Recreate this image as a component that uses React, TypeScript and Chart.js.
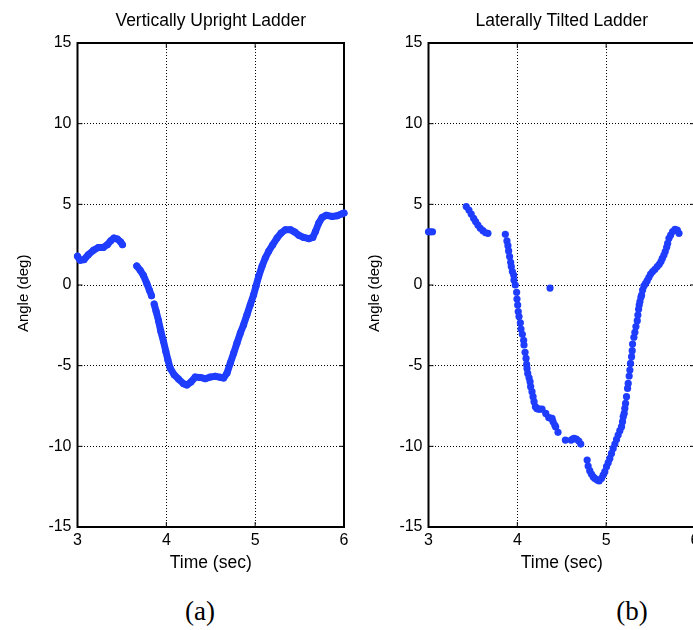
import React, { useEffect, useRef } from 'react'
import { Chart, registerables } from 'chart.js'

Chart.register(...registerables)

const BLUE = '#1f3dff'
const FONT = '"Liberation Sans", Arial, Helvetica, sans-serif'

// (a) vertically upright ladder, three unbroken stretches
const uprightTime1 = [3.0, 3.03, 3.073, 3.122, 3.179, 3.235, 3.291, 3.336, 3.374, 3.411, 3.449, 3.487, 3.506]
const uprightAngle1 = [1.78, 1.53, 1.57, 1.88, 2.15, 2.33, 2.33, 2.5, 2.75, 2.91, 2.85, 2.66, 2.5]
const uprightTime2 = [3.667, 3.705, 3.742, 3.78, 3.81, 3.833]
const uprightAngle2 = [1.18, 0.92, 0.6, 0.1, -0.32, -0.66]
const uprightTime3 = [
  3.863, 3.885, 3.912, 3.938, 3.968, 3.994, 4.017, 4.043, 4.088, 4.137, 4.194, 4.23, 4.276, 4.325, 4.381,
  4.437, 4.494, 4.551, 4.607, 4.645, 4.683, 4.72, 4.758, 4.795, 4.833, 4.87, 4.908, 4.945, 4.983, 5.009,
  5.039, 5.077, 5.114, 5.152, 5.198, 5.246, 5.292, 5.34, 5.397, 5.446, 5.491, 5.547, 5.604, 5.649, 5.679,
  5.716, 5.754, 5.799, 5.866, 5.923, 5.972, 6.0,
]
const uprightAngle3 = [
  -1.18, -1.63, -2.21, -2.87, -3.49, -4.11, -4.63, -5.15, -5.56, -5.83, -6.12, -6.2, -6.02, -5.71, -5.73,
  -5.81, -5.71, -5.66, -5.72, -5.77, -5.46, -4.84, -4.22, -3.6, -2.98, -2.46, -1.84, -1.22, -0.6, -0.08,
  0.54, 1.16, 1.67, 2.09, 2.5, 2.91, 3.22, 3.43, 3.43, 3.28, 3.08, 2.95, 2.87, 2.95, 3.32,
  3.84, 4.19, 4.32, 4.25, 4.29, 4.4, 4.46,
]

// (b) laterally tilted ladder, individual samples
const tiltedTime = [
  3.0, 3.022, 3.045,
  3.425, 3.455, 3.481, 3.508, 3.53, 3.556, 3.583, 3.613, 3.643, 3.669,
  3.865, 3.883, 3.894, 3.902, 3.913, 3.925, 3.932, 3.944, 3.959, 3.962, 3.977, 3.992, 3.996, 4.004, 4.01,
  4.019, 4.034, 4.041, 4.056, 4.071, 4.075, 4.087, 4.098, 4.105, 4.109, 4.117, 4.132, 4.143, 4.15, 4.165,
  4.177, 4.188, 4.203, 4.218, 4.235, 4.252, 4.278, 4.32, 4.353, 4.372, 4.391, 4.402, 4.421, 4.432, 4.458,
  4.368,
  4.541, 4.605, 4.622, 4.639, 4.665, 4.692, 4.714,
  4.786, 4.797, 4.815, 4.834, 4.853, 4.872, 4.898, 4.921, 4.947, 4.966, 4.985, 5.004, 5.023, 5.041, 5.06,
  5.079, 5.098, 5.117, 5.135, 5.154, 5.173, 5.184, 5.192, 5.203, 5.21, 5.218, 5.229, 5.241, 5.248, 5.259,
  5.267, 5.274, 5.286, 5.293, 5.297, 5.312, 5.323, 5.335, 5.35, 5.357, 5.365, 5.372, 5.38, 5.391, 5.399,
  5.41, 5.425, 5.444, 5.462, 5.481, 5.5, 5.523, 5.549, 5.575, 5.598, 5.617, 5.632, 5.65, 5.665, 5.681,
  5.692, 5.707, 5.726, 5.748, 5.775, 5.801, 5.82,
]
const tiltedAngle = [
  3.3, 3.3, 3.3,
  4.86, 4.65, 4.4, 4.13, 3.93, 3.72, 3.51, 3.37, 3.24, 3.2,
  3.14, 2.73, 2.44, 2.11, 1.76, 1.41, 1.14, 0.83, 0.62, 0.31, 0.0, -0.45, -0.87, -1.24, -1.65,
  -1.96, -2.34, -2.73, -3.06, -3.43, -3.72, -4.17, -4.55, -4.92, -5.17, -5.48, -5.75, -5.99, -6.3, -6.61,
  -6.92, -7.23, -7.54, -7.65, -7.69, -7.69, -7.69, -7.96, -8.22, -8.25, -8.27, -8.47, -8.68, -8.8, -9.13,
  -0.19,
  -9.61, -9.61, -9.55, -9.51, -9.55, -9.67, -9.86,
  -10.85, -11.22, -11.51, -11.72, -11.88, -11.99, -12.09, -12.15, -11.99, -11.78, -11.57, -11.26, -11.01, -10.75, -10.44,
  -10.13, -9.86, -9.57, -9.3, -9.03, -8.78, -8.47, -8.16, -7.96, -7.65, -7.34, -6.92, -6.41, -6.1, -5.64,
  -5.27, -4.86, -4.44, -4.07, -3.66, -3.24, -2.93, -2.58, -2.21, -1.86, -1.51, -1.24, -1.03, -0.76, -0.62,
  -0.31, -0.06, 0.1, 0.27, 0.48, 0.68, 0.83, 0.97, 1.14, 1.28, 1.45, 1.65, 1.86, 2.07, 2.34,
  2.58, 2.89, 3.1, 3.31, 3.45, 3.41, 3.2,
]

const timeTicks = { min: 3, max: 6, step: 1 }
const angleTicks = { min: -15, max: 15, step: 5 }

const toPoints = (xs: number[], ys: number[]) => xs.map((x, i) => ({ x, y: ys[i] }))

// MATLAB style box with inward tick marks
const framePlugin = {
  id: 'frame',
  beforeDatasetsDraw(chart: any) {
    const { ctx, chartArea: a } = chart
    const xs = chart.scales.x
    const ys = chart.scales.y
    ctx.save()
    ctx.strokeStyle = '#000'
    ctx.lineWidth = 1
    ctx.beginPath()
    xs.ticks.forEach((t: any) => {
      const p = xs.getPixelForValue(t.value)
      ctx.moveTo(p, a.bottom)
      ctx.lineTo(p, a.bottom - 5)
      ctx.moveTo(p, a.top)
      ctx.lineTo(p, a.top + 5)
    })
    ys.ticks.forEach((t: any) => {
      const p = ys.getPixelForValue(t.value)
      ctx.moveTo(a.left, p)
      ctx.lineTo(a.left + 5, p)
      ctx.moveTo(a.right, p)
      ctx.lineTo(a.right - 5, p)
    })
    ctx.stroke()
    ctx.lineWidth = 2
    ctx.strokeRect(a.left, a.top, a.right - a.left, a.bottom - a.top)
    ctx.restore()
  },
}

function Panel({ title, datasets, left }: { title: string; datasets: any[]; left: number }) {
  const ref = useRef<HTMLCanvasElement | null>(null)

  useEffect(() => {
    if (!ref.current) return
    const chart = new Chart(ref.current, {
      type: 'scatter',
      data: { datasets },
      options: {
        animation: false,
        responsive: true,
        maintainAspectRatio: false,
        layout: { padding: { top: 0, right: 16, bottom: 0, left: 0 } },
        plugins: {
          legend: { display: false },
          tooltip: { enabled: false },
          title: {
            display: true,
            text: title,
            color: '#000',
            fullSize: false,
            font: { family: FONT, size: 17.5, weight: 'normal' },
            padding: { top: 10.5, bottom: 11.5 },
          },
        },
        scales: {
          x: {
            type: 'linear',
            min: timeTicks.min,
            max: timeTicks.max,
            ticks: { stepSize: timeTicks.step, color: '#000', font: { family: FONT, size: 16 }, padding: 3.5 },
            grid: { color: '#000', lineWidth: 1, drawTicks: false },
            border: { display: false, dash: [1, 2] },
            title: {
              display: true,
              text: 'Time (sec)',
              color: '#000',
              font: { family: FONT, size: 17.5 },
              padding: { top: 0, bottom: 16.5 },
            },
            afterFit: (s: any) => {
              s.height = 63
            },
          },
          y: {
            type: 'linear',
            min: angleTicks.min,
            max: angleTicks.max,
            ticks: { stepSize: angleTicks.step, color: '#000', font: { family: FONT, size: 16 }, padding: 6 },
            grid: { color: '#000', lineWidth: 1, drawTicks: false },
            border: { display: false, dash: [1, 2] },
            title: {
              display: true,
              text: 'Angle (deg)    ',
              color: '#000',
              font: { family: FONT, size: 15 },
              padding: { top: 15, bottom: 0 },
            },
            afterFit: (s: any) => {
              s.width = 77.5
            },
          },
        },
      },
      plugins: [framePlugin],
    })
    return () => chart.destroy()
  }, [title, datasets])

  return (
    <div style={{ position: 'absolute', left, top: 0, width: 360, height: 590 }}>
      <canvas ref={ref} />
    </div>
  )
}

const lineSet = (xs: number[], ys: number[]) => ({
  data: toPoints(xs, ys),
  showLine: true,
  borderColor: BLUE,
  backgroundColor: BLUE,
  borderWidth: 7,
  borderCapStyle: 'round',
  borderJoinStyle: 'round',
  pointRadius: 3.5,
  pointBorderWidth: 0,
  clip: false,
})

const uprightSets = [
  lineSet(uprightTime1, uprightAngle1),
  lineSet(uprightTime2, uprightAngle2),
  lineSet(uprightTime3, uprightAngle3),
]

const tiltedSets = [
  {
    data: toPoints(tiltedTime, tiltedAngle),
    showLine: false,
    backgroundColor: BLUE,
    borderColor: BLUE,
    pointRadius: 3.6,
    pointBorderWidth: 0,
    clip: false,
  },
]

const captionStyle: React.CSSProperties = {
  position: 'absolute',
  top: 598,
  width: 60,
  textAlign: 'center',
  fontFamily: '"Liberation Serif", "Times New Roman", serif',
  fontSize: 27,
  lineHeight: '27px',
  color: '#000',
}

export default function App() {
  return (
    <div
      style={{
        position: 'fixed',
        left: 0,
        top: 0,
        width: 693,
        height: 630,
        overflow: 'hidden',
        background: '#fff',
      }}
    >
      <Panel title="Vertically Upright Ladder" datasets={uprightSets} left={0} />
      <Panel title="Laterally Tilted Ladder" datasets={tiltedSets} left={351} />
      <div style={{ ...captionStyle, left: 170 }}>(a)</div>
      <div style={{ ...captionStyle, left: 602 }}>(b)</div>
    </div>
  )
}
